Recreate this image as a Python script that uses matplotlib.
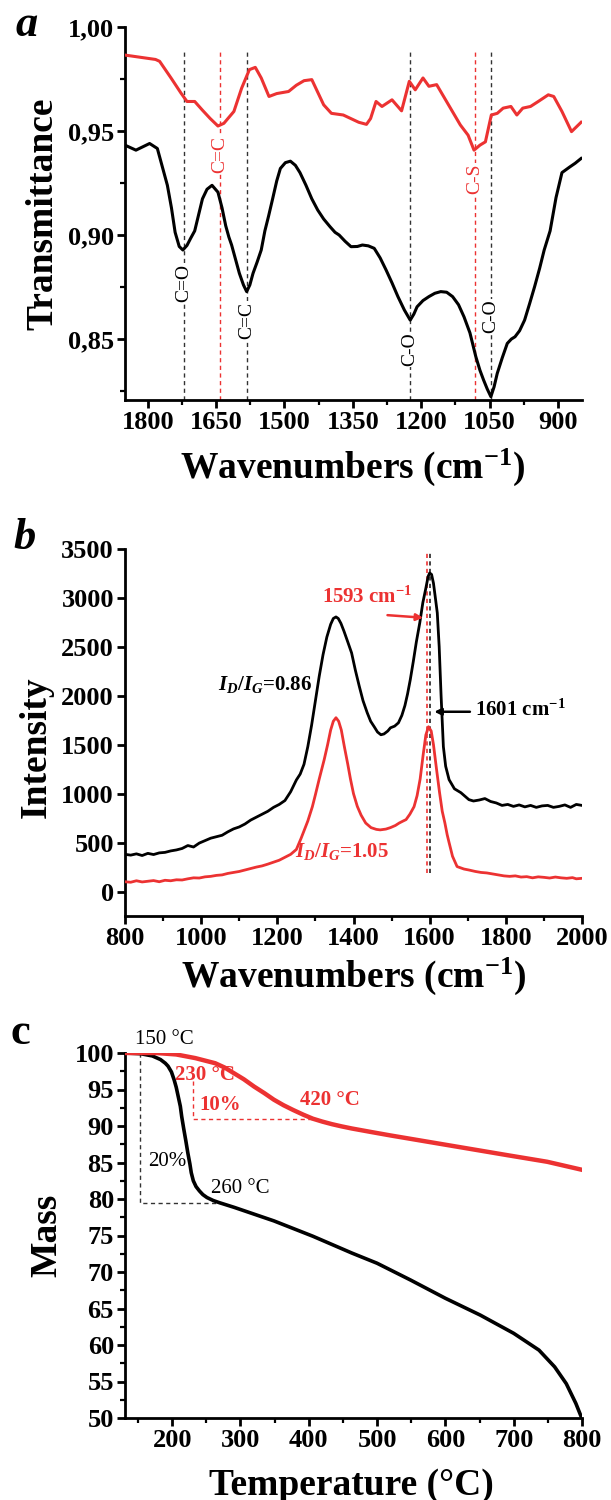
import numpy as np
import matplotlib
matplotlib.use("Agg")
import matplotlib.pyplot as plt
from matplotlib.ticker import MultipleLocator, FuncFormatter

plt.rcParams['font.family'] = ['Liberation Serif', 'DejaVu Serif']
plt.rcParams['mathtext.fontset'] = 'custom'
plt.rcParams['mathtext.rm'] = 'Liberation Serif:bold'
plt.rcParams['mathtext.it'] = 'Liberation Serif:italic:bold'
plt.rcParams['mathtext.bf'] = 'Liberation Serif:bold'

RED = '#ec3232'

# ---- (a) FTIR ----
ir_black_x = [1850, 1826, 1796, 1779, 1757, 1748, 1740, 1731, 1723, 1714, 1706, 1697, 1680, 1670,
              1659, 1646, 1637, 1629, 1622, 1616, 1607, 1599, 1590, 1583, 1576, 1569, 1560, 1551,
              1543, 1535, 1526, 1517, 1509, 1498, 1487, 1476, 1466, 1453, 1440, 1427, 1414, 1400,
              1389, 1380, 1367, 1354, 1340, 1329, 1316, 1303, 1290, 1277, 1264, 1251, 1237, 1224,
              1216, 1209, 1196, 1183, 1170, 1157, 1144, 1131, 1118, 1106, 1093, 1080, 1071, 1063,
              1055, 1047, 1040, 1033, 1022, 1011, 1002, 994, 984, 973, 962, 951, 940, 930, 917,
              904, 891, 874, 862, 849]
ir_black_y = [0.9432, 0.9408, 0.9440, 0.9416, 0.9239, 0.9130, 0.9013, 0.8945, 0.8928, 0.8950,
              0.8984, 0.9020, 0.9174, 0.9220, 0.9239, 0.9206, 0.9130, 0.9045, 0.8990, 0.8952,
              0.8880, 0.8816, 0.8760, 0.8728, 0.8760, 0.8816, 0.8870, 0.8928, 0.9020, 0.9090,
              0.9174, 0.9260, 0.9320, 0.9348, 0.9355, 0.9335, 0.9300, 0.9240, 0.9174, 0.9120,
              0.9077, 0.9040, 0.9013, 0.9000, 0.8970, 0.8944, 0.8945, 0.8952, 0.8948, 0.8936,
              0.8890, 0.8832, 0.8770, 0.8704, 0.8640, 0.8591, 0.8620, 0.8655, 0.8685, 0.8704,
              0.8720, 0.8728, 0.8725, 0.8704, 0.8665, 0.8607, 0.8530, 0.8415, 0.8350, 0.8303,
              0.8260, 0.8223, 0.8270, 0.8335, 0.8410, 0.8479, 0.8500, 0.8511, 0.8540, 0.8591,
              0.8670, 0.8752, 0.8840, 0.8928, 0.9020, 0.9180, 0.9300, 0.9327, 0.9345, 0.9368]
ir_red_x = [1850, 1783, 1774, 1749, 1727, 1714, 1697, 1680, 1663, 1646, 1633, 1611, 1594, 1577,
            1564, 1551, 1534, 1517, 1491, 1474, 1457, 1440, 1414, 1397, 1371, 1337, 1320, 1311,
            1299, 1286, 1264, 1243, 1226, 1213, 1196, 1183, 1166, 1140, 1114, 1097, 1084, 1071,
            1059, 1046, 1033, 1020, 1003, 990, 977, 960, 943, 921, 909, 891, 870, 849]
ir_red_y = [0.9865, 0.9844, 0.9835, 0.9755, 0.9682, 0.9642, 0.9642, 0.9600, 0.9560, 0.9524,
            0.9537, 0.9594, 0.9706, 0.9795, 0.9806, 0.9755, 0.9666, 0.9680, 0.9690, 0.9720,
            0.9742, 0.9747, 0.9626, 0.9585, 0.9577, 0.9542, 0.9532, 0.9560, 0.9642, 0.9618,
            0.9650, 0.9597, 0.9739, 0.9698, 0.9755, 0.9715, 0.9723, 0.9626, 0.9529, 0.9480,
            0.9408, 0.9432, 0.9448, 0.9577, 0.9585, 0.9610, 0.9618, 0.9577, 0.9610, 0.9618,
            0.9642, 0.9674, 0.9666, 0.9594, 0.9497, 0.9542]
ir_black_marks = [1721, 1583, 1224, 1047]
ir_black_labels = ['C=O', 'C=C', 'C-O', 'C-O']
ir_black_label_y = [0.877, 0.859, 0.845, 0.861]
ir_red_marks = [1641, 1082]
ir_red_labels = ['C=C', 'C-S']
ir_red_label_y = [0.9385, 0.927]

# ---- (b) Raman ----
ra_black_x = [800, 815, 830, 845, 860, 875, 890, 905, 920, 935, 950, 965, 980, 995, 1010, 1025,
              1040, 1055, 1070, 1085, 1100, 1115, 1130, 1145, 1160, 1175, 1190, 1205, 1220, 1235,
              1250, 1260, 1270, 1280, 1290, 1300, 1310, 1320, 1330, 1340, 1347, 1354, 1360, 1367,
              1375, 1385, 1395, 1405, 1415, 1425, 1436, 1445, 1455, 1463, 1472, 1480, 1490, 1497,
              1508, 1518, 1527, 1535, 1542, 1549, 1557, 1565, 1574, 1582, 1590, 1596, 1600, 1605,
              1610, 1615, 1620, 1625, 1630, 1636, 1642, 1651, 1665, 1682, 1703, 1715, 1730, 1745,
              1760, 1775, 1790, 1805, 1820, 1835, 1850, 1865, 1880, 1895, 1910, 1925, 1940, 1955,
              1970, 1985, 2000]
ra_black_y = [380, 372, 385, 368, 390, 378, 395, 400, 415, 425, 440, 470, 455, 495, 520, 545,
              560, 575, 610, 640, 660, 690, 730, 760, 790, 820, 860, 890, 930, 1020,
              1140, 1200, 1300, 1480, 1700, 1950, 2200, 2420, 2600, 2730, 2790, 2806, 2790, 2740,
              2660, 2550, 2438, 2260, 2100, 1950, 1827, 1740, 1680, 1630, 1602, 1610, 1640, 1673,
              1690, 1724, 1800, 1900, 2020, 2163, 2350, 2550, 2745, 2950, 3100, 3220, 3255, 3240,
              3150, 3000, 2847, 2500, 2000, 1480, 1280, 1143, 1050, 1010, 939, 925, 935, 950,
              920, 905, 880, 890, 870, 885, 865, 880, 860, 875, 880, 860, 870, 885,
              860, 890, 880]
ra_red_x = [800, 815, 830, 845, 860, 875, 890, 905, 920, 935, 950, 965, 980, 995, 1010, 1025,
            1040, 1055, 1070, 1085, 1100, 1115, 1130, 1145, 1160, 1175, 1190, 1205, 1220, 1235,
            1250, 1262, 1272, 1280, 1292, 1300, 1310, 1323, 1332, 1340, 1347, 1354, 1361, 1368,
            1376, 1385, 1392, 1400, 1410, 1420, 1432, 1446, 1460, 1470, 1485, 1497, 1510, 1520,
            1530, 1538, 1548, 1559, 1567, 1575, 1583, 1590, 1597, 1604, 1610, 1618, 1626, 1633,
            1640, 1646, 1651, 1660, 1672, 1690, 1703, 1720, 1735, 1750, 1765, 1780, 1795, 1810,
            1825, 1840, 1855, 1870, 1885, 1900, 1915, 1930, 1945, 1960, 1975, 1985, 2000]
ra_red_y = [100, 95, 110, 98, 105, 112, 100, 115, 110, 120, 118, 130, 140, 138, 150, 155,
            165, 170, 185, 195, 205, 220, 235, 250, 262, 280, 300, 320, 350, 380,
            430, 540, 640, 720, 867, 990, 1150, 1347, 1500, 1650, 1740, 1776, 1740, 1650,
            1480, 1300, 1150, 1000, 870, 780, 700, 653, 635, 630, 638, 653, 675, 700,
            720, 735, 790, 867, 980, 1150, 1400, 1600, 1684, 1640, 1500, 1250, 1010, 820,
            700, 580, 500, 360, 255, 230, 220, 205, 195, 190, 180, 170, 160, 155,
            160, 148, 152, 140, 150, 145, 138, 148, 140, 135, 142, 130, 135]

# ---- (c) TGA ----
tga_red_t = [131, 177, 206, 234, 263, 277, 291, 305, 320, 335, 349, 363, 377, 392, 406, 420, 434,
             448, 463, 490, 520, 577, 634, 691, 749, 800]
tga_red_m = [100.0, 100.0, 99.8, 99.3, 98.6, 98.0, 97.2, 96.4, 95.4, 94.5, 93.6, 92.85, 92.2,
             91.55, 91.0, 90.6, 90.25, 89.95, 89.66, 89.2, 88.7, 87.8, 86.9, 86.0, 85.1, 84.0]
tga_black_t = [131, 154, 171, 183, 190, 194, 199, 203, 206, 209, 212, 214, 217, 220, 223, 226,
               228, 231, 235, 240, 245, 251, 260, 269, 291, 349, 406, 463, 500, 549, 600, 651,
               700, 737, 760, 777, 791, 800]
tga_black_m = [100.0, 99.9, 99.6, 99.1, 98.6, 98.2, 97.4, 96.3, 95.3, 94.0, 92.7, 91.3, 89.6,
               88.0, 86.3, 84.8, 83.6, 82.5, 81.7, 81.1, 80.6, 80.2, 79.8, 79.5, 78.85, 77.0,
               74.9, 72.6, 71.2, 68.9, 66.4, 64.1, 61.6, 59.3, 57.0, 54.7, 52.0, 49.9]

W, H = 611, 1500
fig = plt.figure(figsize=(W / 100, H / 100), dpi=100)


def px_axes(top, bottom, left=125, right=582):
    return fig.add_axes([left / W, 1 - bottom / H, (right - left) / W, (bottom - top) / H])


def style(ax):
    for s in ('top', 'right'):
        ax.spines[s].set_visible(False)
    for s in ('left', 'bottom'):
        ax.spines[s].set_linewidth(2.0)
    ax.tick_params(which='major', direction='out', length=6, width=2.0, labelsize=19, pad=2)
    ax.tick_params(which='minor', direction='out', length=3.5, width=1.6)
    for lab in ax.get_xticklabels() + ax.get_yticklabels():
        lab.set_fontweight('bold')


# (a)
ax = px_axes(27, 400)
ax.plot(ir_black_x, ir_black_y, color='black', lw=2.2, zorder=3, solid_joinstyle='round')
ax.plot(ir_red_x, ir_red_y, color=RED, lw=2.2, zorder=3, solid_joinstyle='round')
for x, lab, ty in zip(ir_black_marks, ir_black_labels, ir_black_label_y):
    ax.plot([x, x], [0.8207, 0.988], ls=(0, (3, 2.5)), color='#333333', lw=1.0, zorder=1)
    ax.text(x, ty, lab, rotation=90, ha='center', va='center', fontsize=14, color='black',
            bbox=dict(facecolor='white', edgecolor='none', pad=0.5), zorder=2)
for x, lab, ty in zip(ir_red_marks, ir_red_labels, ir_red_label_y):
    ax.plot([x, x], [0.8207, 0.989], ls=(0, (3, 2.5)), color=RED, lw=1.0, zorder=1)
    ax.text(x, ty, lab, rotation=90, ha='center', va='center', fontsize=14, color=RED,
            bbox=dict(facecolor='white', edgecolor='none', pad=0.5), zorder=2)
ax.set_xlim(1850, 847)
ax.set_ylim(0.8207, 1.0)
ax.xaxis.set_major_locator(MultipleLocator(150))
ax.xaxis.set_minor_locator(MultipleLocator(75))
ax.yaxis.set_major_locator(MultipleLocator(0.05))
ax.yaxis.set_minor_locator(MultipleLocator(0.025))
ax.yaxis.set_major_formatter(FuncFormatter(lambda v, p: ('%.2f' % v).replace('.', ',')))
style(ax)
ax.text(0.497, -0.18, r'Wavenumbers (cm$^{-1}$)', transform=ax.transAxes, ha='center',
        va='center', fontsize=27, fontweight='bold')
ax.text(-0.18, 0.5, 'Transmittance', transform=ax.transAxes, ha='center', va='center',
        rotation=90, fontsize=27, fontweight='bold')
fig.text(27 / W, 1 - 25 / H, 'a', ha='center', va='center', fontsize=32,
         fontweight='bold', fontstyle='italic')

# (b)
ax = px_axes(549, 916)
ax.plot(ra_black_x, ra_black_y, color='black', lw=2.0, zorder=3, solid_joinstyle='round')
ax.plot(ra_red_x, ra_red_y, color=RED, lw=2.0, zorder=3, solid_joinstyle='round')
ax.plot([1593, 1593], [190, 3480], ls=(0, (2.5, 2)), color=RED, lw=1.2, zorder=2)
ax.plot([1601, 1601], [190, 3480], ls=(0, (2.5, 2)), color='#222222', lw=1.2, zorder=2)
ax.annotate('', xy=(1590, 2796), xytext=(1482, 2826),
            arrowprops=dict(arrowstyle='-|>', color=RED, lw=1.8, mutation_scale=10))
ax.text(1436, 3010, r'1593 cm$^{-1}$', color=RED, ha='center', va='center', fontsize=15,
        fontweight='bold')
ax.annotate('', xy=(1605, 1837), xytext=(1713, 1837),
            arrowprops=dict(arrowstyle='-|>', color='black', lw=1.8, mutation_scale=10))
ax.text(1720, 1857, r'1601 cm$^{-1}$', color='black', ha='left', va='center', fontsize=15,
        fontweight='bold')
ax.text(1292, 2112, r'$I_D/I_G$=0.86', color='black', ha='right', va='center', fontsize=15,
        fontweight='bold')
ax.text(1246, 408, r'$I_D/I_G$=1.05', color=RED, ha='left', va='center', fontsize=15,
        fontweight='bold')
ax.set_xlim(800, 2000)
ax.set_ylim(-250, 3500)
ax.xaxis.set_major_locator(MultipleLocator(200))
ax.xaxis.set_minor_locator(MultipleLocator(100))
ax.yaxis.set_major_locator(MultipleLocator(500))
style(ax)
ax.text(0.5, -0.164, r'Wavenumbers (cm$^{-1}$)', transform=ax.transAxes, ha='center',
        va='center', fontsize=27, fontweight='bold')
ax.text(-0.195, 0.46, 'Intensity', transform=ax.transAxes, ha='center', va='center',
        rotation=90, fontsize=27, fontweight='bold')
fig.text(25 / W, 1 - 538 / H, 'b', ha='center', va='center', fontsize=32,
         fontweight='bold', fontstyle='italic')

# (c)
ax = px_axes(1053, 1418)
ax.plot(tga_black_t, tga_black_m, color='black', lw=2.6, zorder=3, solid_joinstyle='round')
ax.plot(tga_red_t, tga_red_m, color=RED, lw=3.2, zorder=3, solid_joinstyle='round')
ax.plot([153, 153, 270], [100, 79.45, 79.45], ls=(0, (3, 2.5)), color='#333333', lw=1.0)
ax.plot([231, 231, 406], [96.1, 90.9, 90.9], ls=(0, (3, 2.5)), color=RED, lw=1.0)
ax.text(188, 101.8, '150 °C', ha='center', va='center', fontsize=15, color='black')
ax.text(248, 97.0, '230 °C', ha='center', va='center', fontsize=15, color=RED, fontweight='bold')
ax.text(271, 92.9, '10%', ha='center', va='center', fontsize=15, color=RED, fontweight='bold')
ax.text(431, 93.6, '420 °C', ha='center', va='center', fontsize=15, color=RED, fontweight='bold')
ax.text(193, 85.1, '20%', ha='center', va='center', fontsize=15, color='black')
ax.text(300, 81.4, '260 °C', ha='center', va='center', fontsize=15, color='black')
ax.set_xlim(131, 800)
ax.set_ylim(50, 100)
ax.xaxis.set_major_locator(MultipleLocator(100))
ax.xaxis.set_minor_locator(MultipleLocator(50))
ax.yaxis.set_major_locator(MultipleLocator(5))
ax.yaxis.set_minor_locator(MultipleLocator(2.5))
style(ax)
ax.text(0.495, -0.184, 'Temperature (°C)', transform=ax.transAxes, ha='center',
        va='center', fontsize=27, fontweight='bold')
ax.text(-0.17, 0.5, 'Mass', transform=ax.transAxes, ha='center', va='center',
        rotation=90, fontsize=27, fontweight='bold')
fig.text(20 / W, 1 - 1033 / H, 'c', ha='center', va='center', fontsize=32, fontweight='bold')

fig.savefig('out.png', dpi=100)
